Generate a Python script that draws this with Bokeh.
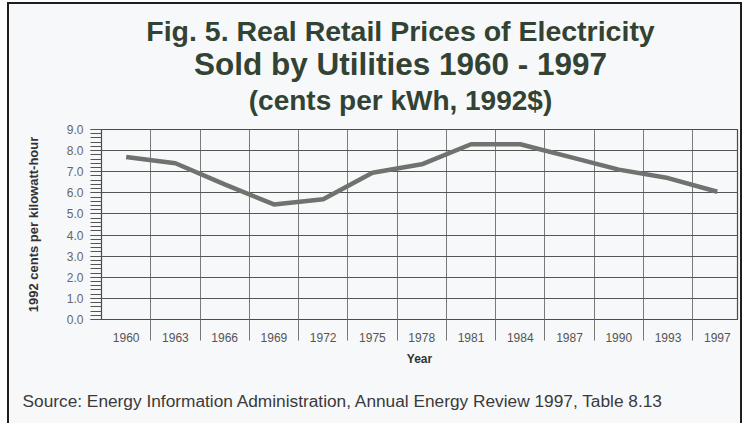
from bokeh.plotting import figure
from bokeh.layouts import column
from bokeh.models import (Range1d, FixedTicker, SingleIntervalTicker, NumeralTickFormatter,
                          CustomJSTickFormatter)
from bokeh.core.properties import value
from bokeh.embed import file_html
from bokeh.resources import INLINE

# ---- data ----
years = ["1960", "1963", "1966", "1969", "1972", "1975", "1978",
         "1981", "1984", "1987", "1990", "1993", "1997"]
prices = [7.7, 7.4, 6.4, 5.45, 5.7, 6.95, 7.35, 8.3, 8.3, 7.7, 7.1, 6.7, 6.05]
y_max = 9

title_lines = ["Fig. 5. Real Retail Prices of Electricity",
               "Sold by Utilities 1960 - 1997",
               "(cents per kWh, 1992$)"]
source_text = "Source: Energy Information Administration, Annual Energy Review 1997, Table 8.13"
y_title = "1992 cents per kilowatt-hour"
x_title = "Year"

FONT = "Liberation Sans"
BG = "#f7f8fa"
W = 731


def no_frame_align(f):
    if "frame_align" in f.properties():
        f.frame_align = False


def text_panel(height):
    f = figure(width=W, height=height, output_backend="svg", toolbar_location=None,
               x_range=Range1d(0, W), y_range=Range1d(height, 0),
               x_axis_location=None, y_axis_location=None,
               min_border=0, background_fill_color=BG, border_fill_color=BG)
    f.outline_line_color = None
    f.xgrid.visible = False
    f.ygrid.visible = False
    no_frame_align(f)
    return f


# ---- title block ----
top = text_panel(112)
for txt, ty, fs in zip(title_lines, [26, 59, 96], ["28.5px", "31.5px", "28px"]):
    top.text(x=[391], y=[ty], text=[txt], text_align="center", text_baseline="middle",
             text_font=value(FONT), text_font_style=value("bold"), text_font_size=value(fs),
             text_color="#334333")

# ---- main chart ----
xs = list(range(len(years)))
p = figure(width=W, height=262, output_backend="svg", toolbar_location=None,
           x_range=Range1d(-0.5, len(years) - 0.59), y_range=Range1d(0, y_max),
           min_border_left=92, min_border_right=3, min_border_top=13, min_border_bottom=59,
           background_fill_color=BG, border_fill_color=BG)
no_frame_align(p)
p.outline_line_color = "#4a4a4a"
p.outline_line_width = 1.2

sep = [i + 0.5 for i in range(len(years) - 1)]
p.xaxis.ticker = FixedTicker(ticks=xs, minor_ticks=sep)
p.xaxis.formatter = CustomJSTickFormatter(args=dict(labels=years),
                                          code="return labels[Math.round(tick)] || '';")
p.xaxis.major_tick_out = 0
p.xaxis.major_tick_in = 0
p.xaxis.minor_tick_in = 0
p.xaxis.minor_tick_out = 21
p.xaxis.minor_tick_line_color = "#777777"
p.xaxis.axis_line_color = "#4a4a4a"
p.xaxis.major_label_standoff = -8
p.xaxis.major_label_text_font = FONT
p.xaxis.major_label_text_font_size = "12px"
p.xaxis.major_label_text_color = "#555555"
p.xaxis.axis_label = x_title
p.xaxis.axis_label_text_font = FONT
p.xaxis.axis_label_text_font_style = "bold"
p.xaxis.axis_label_text_font_size = "12px"
p.xaxis.axis_label_text_color = "#333333"
p.xaxis.axis_label_standoff = 7

p.yaxis.ticker = SingleIntervalTicker(interval=1, num_minor_ticks=5)
p.yaxis.formatter = NumeralTickFormatter(format="0.0")
p.yaxis.major_tick_in = 0
p.yaxis.major_tick_out = 11
p.yaxis.minor_tick_in = 0
p.yaxis.minor_tick_out = 11
p.yaxis.major_tick_line_color = "#555555"
p.yaxis.minor_tick_line_color = "#555555"
p.yaxis.axis_line_color = "#4a4a4a"
p.yaxis.major_label_standoff = 7
p.yaxis.major_label_text_font = FONT
p.yaxis.major_label_text_font_size = "12px"
p.yaxis.major_label_text_color = "#666666"
p.yaxis.axis_label = y_title
p.yaxis.axis_label_text_font = FONT
p.yaxis.axis_label_text_font_style = "bold"
p.yaxis.axis_label_text_font_size = "13px"
p.yaxis.axis_label_text_color = "#333333"
p.yaxis.axis_label_standoff = 23

p.xgrid.ticker = FixedTicker(ticks=sep)
p.xgrid.grid_line_color = "#7a7a7a"
p.ygrid.ticker = SingleIntervalTicker(interval=1)
p.ygrid.grid_line_color = "#555555"

p.line(xs, prices, line_width=4.5, line_color="#6f736f")

# ---- source line ----
bottom = text_panel(45)
bottom.text(x=[13], y=[22], text=[source_text], text_align="left", text_baseline="middle",
            text_font=value(FONT), text_font_size=value("17.3px"), text_color="#3a3a3a")

layout = column(top, p, bottom, spacing=0)
layout.styles = {"margin-left": "7px", "margin-top": "2px",
                 "border-left": "2px solid #1e1e1e", "border-top": "2px solid #1e1e1e",
                 "border-right": "2px solid #1e1e1e", "background-color": BG}

open("out.html", "w").write(file_html(layout, INLINE))
